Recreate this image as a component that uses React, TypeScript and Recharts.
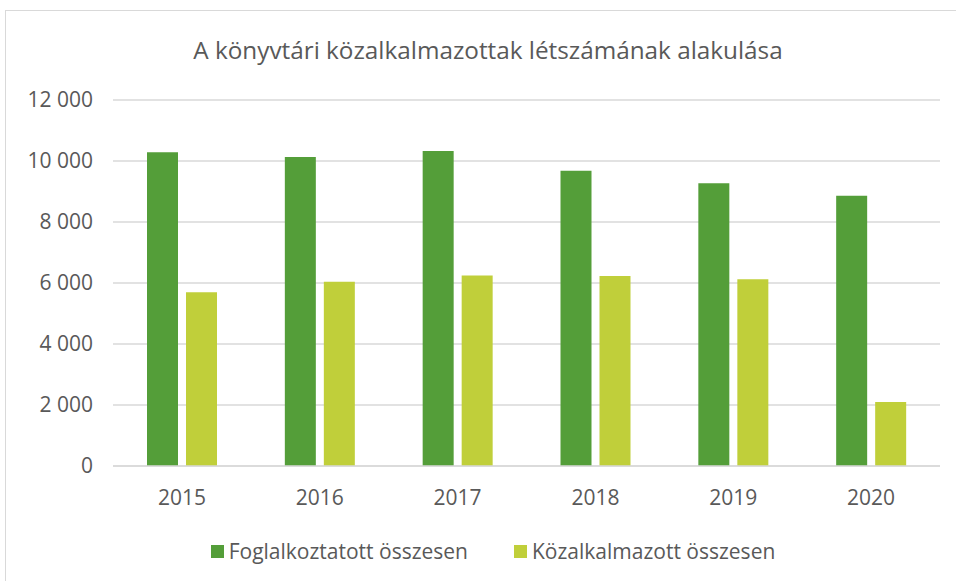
import { Bar, BarChart, CartesianGrid, Legend, XAxis, YAxis } from "recharts";

const years = ["2015", "2016", "2017", "2018", "2019", "2020"];
const employed = [10290, 10130, 10330, 9680, 9270, 8860];
const publicServants = [5700, 6040, 6250, 6230, 6120, 2100];
const yTicks = [0, 2000, 4000, 6000, 8000, 10000, 12000];

const TITLE = "A könyvtári közalkalmazottak létszámának alakulása";
const SERIES = [
  { key: "employed", name: "Foglalkoztatott összesen", color: "#549E39" },
  { key: "publicServants", name: "Közalkalmazott összesen", color: "#C0CF3A" },
];

const FONT = "'Open Sans', sans-serif";
const TEXT = "#595959";
const GRID = "#D9D9D9";

const data = years.map((year, i) => ({
  year,
  employed: employed[i],
  publicServants: publicServants[i],
}));

// Excel-style thousands separator: "12 000"
function fmt(value: number): string {
  return String(value).replace(/\B(?=(\d{3})+(?!\d))/g, " ");
}

function LegendRow() {
  return (
    <div
      style={{
        height: 40,
        paddingTop: 10,
        paddingLeft: 46,
        boxSizing: "border-box",
        display: "flex",
        justifyContent: "center",
        gap: 46,
        fontFamily: FONT,
        fontSize: 21,
        color: TEXT,
        lineHeight: "30px",
      }}
    >
      {SERIES.map((s) => (
        <span key={s.key} style={{ display: "flex", alignItems: "center" }}>
          <span
            style={{
              width: 13,
              height: 13,
              background: s.color,
              marginRight: 5,
              display: "inline-block",
            }}
          />
          {s.name}
        </span>
      ))}
    </div>
  );
}

export default function App() {
  return (
    <div
      style={{
        position: "absolute",
        left: 0,
        top: 0,
        width: 956,
        height: 581,
        overflow: "hidden",
        background: "#fff",
      }}
    >
      <div
        style={{
          position: "absolute",
          left: 5,
          top: 10,
          width: 1000,
          height: 600,
          border: `1px solid ${GRID}`,
        }}
      />
      <div
        style={{
          position: "absolute",
          left: 0,
          top: 33,
          width: 976,
          textAlign: "center",
          fontFamily: FONT,
          fontSize: 24.3,
          color: TEXT,
          lineHeight: "34px",
        }}
      >
        {TITLE}
      </div>
      <BarChart
        width={956}
        height={581}
        data={data}
        margin={{ top: 100, right: 16, bottom: 15, left: 0 }}
        barSize={31}
        barGap={8}
        style={{ position: "absolute", left: 0, top: 0 }}
      >
        <CartesianGrid stroke={GRID} strokeWidth={1.3} vertical={false} />
        <XAxis
          dataKey="year"
          height={60}
          tickLine={false}
          axisLine={{ stroke: GRID, strokeWidth: 1.3 }}
          tickSize={0}
          tickMargin={24}
          tick={{ fontSize: 21, fill: TEXT, fontFamily: FONT }}
        />
        <YAxis
          width={113}
          domain={[0, 12000]}
          ticks={yTicks}
          tickFormatter={fmt}
          axisLine={false}
          tickLine={false}
          tickSize={0}
          tickMargin={20}
          tick={{ fontSize: 21, fill: TEXT, fontFamily: FONT }}
        />
        <Legend verticalAlign="bottom" content={() => <LegendRow />} />
        {SERIES.map((s) => (
          <Bar
            key={s.key}
            dataKey={s.key}
            name={s.name}
            fill={s.color}
            isAnimationActive={false}
          />
        ))}
      </BarChart>
    </div>
  );
}
